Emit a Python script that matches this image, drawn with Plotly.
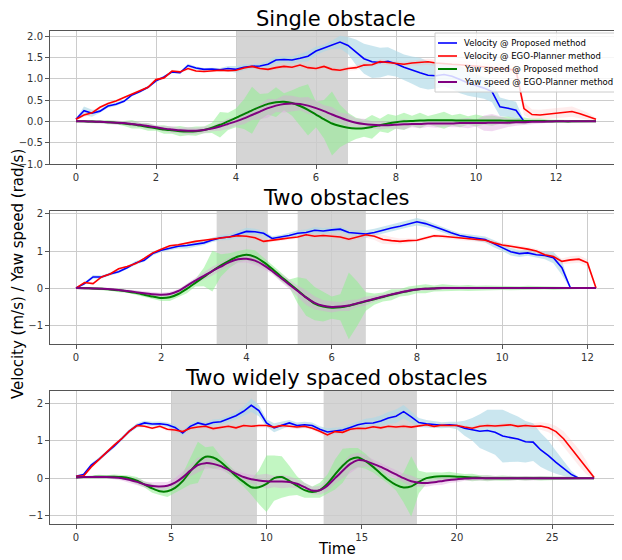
import numpy as np
import plotly.graph_objects as go

# ---------------- DATA ----------------
# Panel 1: Single obstacle (sampled every 0.2 s)
t1 = np.round(np.arange(66) * 0.2, 2)
vel_prop1 = [0.05,0.25,0.19,0.24,0.36,0.40,0.47,0.62,0.70,0.80,
             0.95,1.04,1.16,1.14,1.31,1.25,1.22,1.23,1.21,1.24,
             1.22,1.27,1.29,1.30,1.34,1.44,1.45,1.44,1.48,1.53,
             1.65,1.72,1.80,1.86,1.78,1.62,1.47,1.40,1.38,1.41,
             1.35,1.27,1.20,1.14,1.08,1.07,1.10,1.06,0.98,0.90,
             0.84,0.78,0.70,0.34,0.31,0.26,0.0]
vel_prop1_sd = [0.02,0.10,0.08,0.04,0.04,0.04,0.03,0.03,0.03,0.03,
                0.03,0.03,0.03,0.03,0.04,0.04,0.03,0.03,0.04,0.06,
                0.08,0.07,0.05,0.06,0.08,0.08,0.07,0.08,0.10,0.12,
                0.10,0.08,0.10,0.15,0.20,0.30,0.35,0.38,0.35,0.33,
                0.30,0.30,0.32,0.35,0.33,0.30,0.28,0.30,0.32,0.30,
                0.28,0.25,0.25,0.22,0.20,0.20,0.02]
vel_ego1 = [0.05,0.15,0.20,0.33,0.42,0.48,0.56,0.64,0.73,0.80,
            0.98,1.02,1.18,1.16,1.24,1.18,1.17,1.18,1.20,1.19,
            1.20,1.25,1.29,1.24,1.22,1.26,1.29,1.27,1.32,1.26,
            1.24,1.29,1.22,1.20,1.24,1.26,1.32,1.33,1.40,1.38,
            1.36,1.34,1.37,1.38,1.40,1.37,1.35,1.34,1.33,1.31,
            1.30,1.28,1.26,1.25,1.22,1.20,0.30,0.16,0.15,0.17,
            0.20,0.21,0.23,0.18,0.12,0.05]
vel_ego1_sd = [0.03,0.05,0.04,0.03,0.03,0.03,0.03,0.03,0.03,0.03,
               0.03,0.03,0.03,0.03,0.04,0.03,0.03,0.03,0.03,0.03,
               0.04,0.04,0.05,0.04,0.04,0.05,0.05,0.04,0.05,0.05,
               0.05,0.04,0.05,0.05,0.05,0.06,0.06,0.05,0.06,0.06,
               0.06,0.06,0.06,0.07,0.07,0.08,0.08,0.08,0.09,0.10,
               0.10,0.10,0.10,0.12,0.14,0.15,0.15,0.12,0.12,0.12,
               0.12,0.12,0.12,0.10,0.08,0.03]
yaw_prop1 = [0.0,0.0,-0.005,-0.01,-0.02,-0.03,-0.05,-0.07,-0.10,-0.13,
             -0.16,-0.19,-0.21,-0.23,-0.235,-0.23,-0.20,-0.15,-0.08,0.0,
             0.08,0.17,0.26,0.34,0.41,0.45,0.46,0.43,0.36,0.27,
             0.16,0.05,-0.05,-0.11,-0.15,-0.165,-0.16,-0.13,-0.09,-0.05,
             -0.02,0.0,0.01,0.02,0.025,0.025,0.025,0.025,0.02,0.02,
             0.02,0.02,0.02,0.02,0.015,0.015,0.01,0.01,0.01,0.005,
             0.005,0.0,0.0,0.0,0.0,0.0]
yaw_prop1_sd = [0.01,0.03,0.04,0.03,0.05,0.04,0.06,0.10,0.07,0.09,
                0.06,0.10,0.08,0.12,0.09,0.11,0.08,0.12,0.30,0.20,
                0.22,0.35,0.55,0.30,0.25,0.35,0.20,0.30,0.45,0.60,
                0.30,0.45,0.75,0.50,0.35,0.25,0.20,0.28,0.15,0.22,
                0.15,0.20,0.12,0.18,0.10,0.15,0.20,0.12,0.16,0.10,
                0.14,0.10,0.12,0.08,0.10,0.06,0.08,0.05,0.06,0.04,
                0.04,0.03,0.03,0.02,0.02,0.01]
yaw_ego1 = [0.0,0.0,-0.005,-0.01,-0.02,-0.03,-0.04,-0.06,-0.08,-0.11,
            -0.14,-0.17,-0.19,-0.21,-0.22,-0.22,-0.20,-0.17,-0.12,-0.06,
            0.0,0.07,0.15,0.23,0.31,0.37,0.41,0.42,0.41,0.37,
            0.31,0.24,0.16,0.09,0.02,-0.03,-0.06,-0.08,-0.09,-0.09,
            -0.08,-0.07,-0.06,-0.06,-0.05,-0.05,-0.05,-0.05,-0.04,-0.04,
            -0.04,-0.04,-0.03,-0.03,-0.03,-0.02,-0.02,-0.01,-0.01,-0.005,
            0.0,0.0,0.0,0.0,0.0,0.0]
yaw_ego1_sd = [0.01,0.02,0.03,0.04,0.03,0.05,0.04,0.06,0.05,0.07,
               0.05,0.06,0.08,0.06,0.09,0.07,0.08,0.06,0.10,0.12,
               0.10,0.14,0.12,0.18,0.22,0.15,0.20,0.18,0.15,0.20,
               0.16,0.14,0.18,0.12,0.15,0.10,0.12,0.08,0.10,0.08,
               0.10,0.12,0.08,0.10,0.08,0.10,0.07,0.09,0.10,0.12,
               0.08,0.18,0.20,0.15,0.10,0.08,0.06,0.05,0.04,0.03,
               0.02,0.02,0.02,0.02,0.01,0.01]
obstacles1 = [(4.0, 6.8)]

# Panel 2: Two obstacles (sampled every 0.2 s)
t2 = np.round(np.arange(62) * 0.2, 2)
vel_prop2 = [0.0,0.12,0.30,0.30,0.38,0.44,0.55,0.68,0.75,0.93,
             1.02,1.08,1.13,1.15,1.18,1.22,1.30,1.36,1.38,1.45,
             1.53,1.52,1.48,1.34,1.37,1.42,1.48,1.50,1.56,1.54,
             1.57,1.59,1.50,1.48,1.46,1.50,1.57,1.62,1.67,1.74,
             1.79,1.74,1.67,1.58,1.49,1.42,1.38,1.35,1.31,1.20,
             1.10,0.98,0.93,0.95,0.90,0.88,0.82,0.55,0.0]
vel_prop2_sd = [0.01,0.04,0.05,0.04,0.04,0.04,0.04,0.05,0.04,0.05,
                0.05,0.05,0.06,0.08,0.07,0.06,0.06,0.07,0.08,0.10,
                0.10,0.08,0.07,0.06,0.06,0.07,0.08,0.08,0.09,0.08,
                0.07,0.07,0.06,0.08,0.10,0.10,0.09,0.08,0.09,0.10,
                0.10,0.09,0.08,0.07,0.07,0.06,0.07,0.08,0.08,0.10,
                0.10,0.10,0.09,0.08,0.08,0.10,0.15,0.20,0.02]
vel_ego2 = [0.0,0.15,0.12,0.30,0.38,0.52,0.58,0.66,0.80,0.95,
            1.05,1.14,1.17,1.22,1.26,1.29,1.32,1.36,1.38,1.41,
            1.40,1.36,1.26,1.30,1.32,1.35,1.38,1.44,1.40,1.42,
            1.41,1.38,1.32,1.38,1.44,1.40,1.31,1.28,1.26,1.28,
            1.29,1.35,1.41,1.40,1.38,1.36,1.32,1.30,1.29,1.22,
            1.16,1.13,1.10,1.05,1.00,0.90,0.85,0.72,0.76,0.78,
            0.68,0.0]
vel_ego2_sd = [0.01,0.03,0.03,0.03,0.03,0.03,0.03,0.03,0.03,0.03,
               0.03,0.03,0.03,0.03,0.03,0.03,0.04,0.04,0.04,0.04,
               0.04,0.05,0.05,0.04,0.04,0.04,0.04,0.05,0.05,0.05,
               0.05,0.05,0.06,0.06,0.08,0.10,0.12,0.10,0.08,0.06,
               0.05,0.05,0.05,0.05,0.05,0.05,0.05,0.05,0.06,0.06,
               0.06,0.06,0.06,0.06,0.06,0.07,0.07,0.08,0.10,0.10,
               0.10,0.02]
yaw_prop2 = [0.0,-0.003,-0.01,-0.02,-0.04,-0.06,-0.09,-0.13,-0.18,-0.23,
             -0.27,-0.25,-0.16,-0.02,0.14,0.30,0.46,0.61,0.74,0.85,
             0.90,0.84,0.70,0.52,0.32,0.13,-0.06,-0.25,-0.42,-0.50,
             -0.53,-0.52,-0.48,-0.42,-0.36,-0.30,-0.24,-0.18,-0.13,-0.08,
             -0.04,-0.02,-0.01,0.0,0.0,0.0,0.0,0.0,0.0,0.0,
             0.0,0.0,0.0,0.0,0.0,0.0,0.0,0.0,0.0,0.0,
             0.0,0.0]
yaw_prop2_sd = [0.01,0.03,0.03,0.04,0.03,0.05,0.04,0.06,0.05,0.07,
                0.08,0.10,0.08,0.12,0.10,0.25,0.55,0.30,0.20,0.15,
                0.15,0.18,0.12,0.10,0.12,0.10,0.35,0.50,0.45,0.40,
                0.30,0.35,0.90,0.60,0.25,0.15,0.12,0.15,0.10,0.12,
                0.10,0.12,0.08,0.10,0.08,0.07,0.08,0.06,0.07,0.06,
                0.05,0.06,0.05,0.06,0.05,0.04,0.05,0.04,0.03,0.03,
                0.02,0.01]
yaw_ego2 = [0.0,-0.003,-0.01,-0.02,-0.03,-0.05,-0.08,-0.11,-0.14,-0.17,
            -0.18,-0.16,-0.08,0.06,0.20,0.33,0.46,0.58,0.70,0.78,
            0.79,0.74,0.62,0.46,0.28,0.10,-0.08,-0.26,-0.40,-0.48,
            -0.51,-0.50,-0.47,-0.41,-0.35,-0.29,-0.23,-0.17,-0.12,-0.07,
            -0.04,-0.02,-0.01,0.0,0.0,0.0,0.0,0.0,0.0,0.0,
            0.0,0.0,0.0,0.0,0.0,0.0,0.0,0.0,0.0,0.0,
            0.0,0.0]
yaw_ego2_sd = [0.01,0.02,0.03,0.03,0.04,0.03,0.04,0.05,0.04,0.06,
               0.05,0.06,0.05,0.06,0.08,0.10,0.12,0.10,0.12,0.10,
               0.10,0.12,0.10,0.08,0.10,0.12,0.15,0.20,0.18,0.15,
               0.15,0.12,0.15,0.10,0.12,0.08,0.07,0.06,0.05,0.05,
               0.04,0.05,0.04,0.05,0.04,0.04,0.03,0.04,0.03,0.04,
               0.03,0.04,0.03,0.03,0.04,0.03,0.03,0.03,0.02,0.02,
               0.02,0.01]
obstacles2 = [(3.3, 4.5), (5.2, 6.8)]

# Panel 3: Two widely spaced obstacles (sampled every 0.4 s)
t3 = np.round(np.arange(69) * 0.4, 2)
vel_prop3 = [0.05,0.10,0.35,0.50,0.68,0.85,1.05,1.25,1.40,1.47,
             1.44,1.45,1.42,1.35,1.20,1.38,1.47,1.42,1.48,1.50,
             1.58,1.66,1.78,1.94,1.80,1.47,1.34,1.40,1.47,1.40,
             1.42,1.40,1.30,1.23,1.26,1.28,1.35,1.42,1.46,1.47,
             1.52,1.60,1.65,1.77,1.63,1.48,1.45,1.43,1.41,1.42,
             1.40,1.33,1.30,1.25,1.27,1.22,1.12,1.08,1.04,0.97,
             0.96,0.75,0.60,0.42,0.25,0.10,0.0]
vel_prop3_sd = [0.02,0.04,0.05,0.05,0.05,0.05,0.05,0.05,0.06,0.06,
                0.06,0.06,0.06,0.07,0.08,0.07,0.06,0.07,0.08,0.08,
                0.09,0.10,0.12,0.18,0.15,0.10,0.12,0.10,0.08,0.08,
                0.08,0.08,0.08,0.10,0.08,0.08,0.09,0.10,0.12,0.14,
                0.15,0.16,0.18,0.18,0.15,0.12,0.10,0.08,0.08,0.08,
                0.10,0.20,0.30,0.45,0.55,0.60,0.70,0.65,0.60,0.55,
                0.50,0.45,0.40,0.30,0.20,0.10,0.02]
vel_ego3 = [0.05,0.06,0.30,0.50,0.68,0.88,1.05,1.25,1.40,1.38,
            1.33,1.38,1.30,1.28,1.24,1.33,1.36,1.38,1.32,1.36,
            1.38,1.34,1.40,1.38,1.40,1.40,1.36,1.40,1.38,1.36,
            1.38,1.33,1.25,1.15,1.24,1.22,1.30,1.33,1.32,1.37,
            1.34,1.38,1.36,1.38,1.36,1.40,1.42,1.38,1.41,1.40,
            1.40,1.36,1.33,1.38,1.40,1.39,1.41,1.42,1.38,1.40,
            1.38,1.39,1.34,1.24,1.05,0.80,0.55,0.28,0.02]
vel_ego3_sd = [0.02,0.04,0.04,0.04,0.04,0.04,0.04,0.04,0.04,0.04,
               0.04,0.04,0.05,0.05,0.05,0.05,0.05,0.05,0.05,0.05,
               0.05,0.05,0.05,0.05,0.05,0.05,0.05,0.05,0.05,0.05,
               0.05,0.05,0.06,0.06,0.06,0.05,0.05,0.05,0.05,0.05,
               0.05,0.05,0.05,0.05,0.05,0.05,0.05,0.05,0.05,0.05,
               0.05,0.05,0.05,0.06,0.06,0.06,0.06,0.06,0.06,0.07,
               0.08,0.10,0.12,0.15,0.20,0.22,0.22,0.18,0.03]
yaw_prop3 = [0.02,0.03,0.03,0.04,0.04,0.04,0.03,0.0,-0.07,-0.17,
             -0.27,-0.35,-0.35,-0.26,-0.08,0.18,0.42,0.57,0.55,0.43,
             0.25,0.06,-0.10,-0.24,-0.24,-0.15,0.0,0.03,-0.07,-0.20,
             -0.32,-0.37,-0.32,-0.15,0.10,0.33,0.50,0.55,0.45,0.30,
             0.12,-0.05,-0.18,-0.25,-0.22,-0.10,0.0,0.04,0.05,0.05,
             0.04,0.03,0.02,0.01,0.0,0.0,0.0,0.0,0.0,0.0,
             0.0,0.0,0.0,0.0,0.0,0.0,0.0,0.0,0.0]
yaw_prop3_sd = [0.01,0.03,0.04,0.05,0.04,0.06,0.05,0.07,0.10,0.08,
                0.12,0.10,0.15,0.12,0.20,0.35,0.55,0.25,0.30,0.15,
                0.12,0.10,0.12,0.20,0.45,0.75,0.60,0.55,0.40,0.25,
                0.20,0.15,0.20,0.25,0.40,0.45,0.30,0.25,0.20,0.15,
                0.12,0.10,0.15,0.40,0.80,0.30,0.15,0.12,0.10,0.12,
                0.10,0.08,0.10,0.07,0.08,0.06,0.07,0.06,0.05,0.06,
                0.05,0.06,0.05,0.05,0.04,0.04,0.03,0.02,0.01]
yaw_ego3 = [0.02,0.03,0.03,0.03,0.03,0.02,0.0,-0.04,-0.10,-0.17,
            -0.21,-0.22,-0.20,-0.12,0.02,0.20,0.35,0.40,0.38,0.32,
            0.22,0.12,0.03,-0.03,-0.06,-0.08,-0.09,-0.09,-0.10,-0.15,
            -0.24,-0.33,-0.32,-0.20,0.0,0.20,0.38,0.48,0.46,0.38,
            0.30,0.20,0.10,0.0,-0.08,-0.12,-0.13,-0.11,-0.08,-0.05,
            -0.03,-0.01,0.0,0.0,0.0,0.0,0.0,0.0,0.0,0.0,
            0.0,0.0,0.0,0.0,0.0,0.0,0.0,0.0,0.0]
yaw_ego3_sd = [0.01,0.02,0.03,0.04,0.03,0.05,0.06,0.08,0.10,0.08,
               0.10,0.12,0.10,0.12,0.15,0.15,0.20,0.15,0.12,0.10,
               0.10,0.08,0.10,0.12,0.15,0.20,0.15,0.18,0.15,0.12,
               0.12,0.10,0.12,0.15,0.15,0.20,0.25,0.20,0.15,0.12,
               0.10,0.12,0.10,0.12,0.15,0.10,0.10,0.08,0.10,0.08,
               0.08,0.06,0.07,0.06,0.07,0.06,0.05,0.06,0.05,0.06,
               0.05,0.06,0.05,0.04,0.05,0.04,0.03,0.02,0.01]
obstacles3 = [(5.0, 9.5), (13.0, 17.9)]

titles = ["Single obstacle", "Two obstacles", "Two widely spaced obstacles"]
series_names = ["Velocity @ Proposed method", "Velocity @ EGO-Planner method",
                "Yaw speed @ Proposed method", "Yaw speed @ EGO-Planner method"]

# ---------------- STYLE ----------------
line_colors = ["#0000ff", "#ff0000", "#008000", "#800080"]
band_colors = ["rgba(173,216,230,0.65)", "rgba(255,170,170,0.22)",
               "rgba(144,238,144,0.55)", "rgba(221,160,221,0.40)"]
line_widths = [1.6, 1.6, 2.0, 2.0]
line_shapes = ["linear", "linear", "spline", "spline"]

# page body has an 8px default margin: work in screenshot pixels, shift by OFF
OFF = 8
W, H = 622 - OFF, 560 - OFF
L = 50 - OFF
PW = W - L


def px(x):
    return (x - OFF - L) / PW


def py(y):
    return 1 - (y - OFF) / H


panels = [
    dict(t=t1, series=[(vel_prop1, vel_prop1_sd), (vel_ego1, vel_ego1_sd),
                       (yaw_prop1, yaw_prop1_sd), (yaw_ego1, yaw_ego1_sd)],
         obs=obstacles1, xr=[-0.65, 13.65], yr=[-1.0, 2.12],
         xt=[0, 2, 4, 6, 8, 10, 12], yt=[-1.0, -0.5, 0.0, 0.5, 1.0, 1.5, 2.0],
         yfmt=".1f", dom=[py(164), py(31)]),
    dict(t=t2, series=[(vel_prop2, vel_prop2_sd), (vel_ego2, vel_ego2_sd),
                       (yaw_prop2, yaw_prop2_sd), (yaw_ego2, yaw_ego2_sd)],
         obs=obstacles2, xr=[-0.61, 12.81], yr=[-1.51, 2.08],
         xt=[0, 2, 4, 6, 8, 10, 12], yt=[-1, 0, 1, 2],
         yfmt="d", dom=[py(344), py(211)]),
    dict(t=t3, series=[(vel_prop3, vel_prop3_sd), (vel_ego3, vel_ego3_sd),
                       (yaw_prop3, yaw_prop3_sd), (yaw_ego3, yaw_ego3_sd)],
         obs=obstacles3, xr=[-1.365, 28.665], yr=[-1.22, 2.32],
         xt=[0, 5, 10, 15, 20, 25], yt=[-1, 0, 1, 2],
         yfmt="d", dom=[py(524), py(391)]),
]

fig = go.Figure()
layout = {}
shapes = []
for p_i, p in enumerate(panels):
    ax = "" if p_i == 0 else str(p_i + 1)
    xref, yref = "x" + ax, "y" + ax
    for s_i, (vals, sd) in enumerate(p["series"]):
        v = np.array(vals, dtype=float)
        s = np.array(sd, dtype=float)
        tt = p["t"][:len(v)]
        up, lo = v + s, v - s
        fig.add_trace(go.Scatter(
            x=np.concatenate([tt, tt[::-1]]), y=np.concatenate([up, lo[::-1]]),
            fill="toself", fillcolor=band_colors[s_i], line=dict(width=0),
            mode="lines", hoverinfo="skip", showlegend=False,
            xaxis=xref, yaxis=yref))
    for s_i, (vals, sd) in enumerate(p["series"]):
        v = np.array(vals, dtype=float)
        tt = p["t"][:len(v)]
        fig.add_trace(go.Scatter(
            x=tt, y=v, mode="lines", name=series_names[s_i],
            line=dict(color=line_colors[s_i], width=line_widths[s_i],
                      shape=line_shapes[s_i], smoothing=0.6),
            showlegend=False, xaxis=xref, yaxis=yref))
    for (a, b) in p["obs"]:
        shapes.append(dict(type="rect", xref=xref, yref=yref + " domain",
                           x0=a, x1=b, y0=0, y1=1,
                           fillcolor="rgba(150,150,150,0.40)",
                           line=dict(width=0), layer="below"))
    common = dict(showgrid=True, gridcolor="#cccccc", gridwidth=1, zeroline=False,
                  showline=True, linecolor="#555555", linewidth=1, mirror=True,
                  ticks="outside", ticklen=4, tickcolor="#555555", automargin=False,
                  tickfont=dict(size=10, color="#333333", family="DejaVu Sans"))
    layout["xaxis" + ax] = dict(common, domain=[0, 1], range=p["xr"],
                                tickvals=p["xt"], anchor=yref)
    layout["yaxis" + ax] = dict(common, domain=p["dom"], range=p["yr"],
                                tickvals=p["yt"], tickformat=p["yfmt"], anchor=xref)

annotations = []
title_y = [py(19), py(198), py(378)]
for txt, yy in zip(titles, title_y):
    annotations.append(dict(text=txt, x=px(336), y=yy, xref="paper", yref="paper",
                            xanchor="center", yanchor="middle", showarrow=False,
                            font=dict(size=21, color="#000000", family="DejaVu Sans")))
annotations.append(dict(text="Velocity (m/s) / Yaw speed (rad/s)", x=px(18),
                        y=py(274), xref="paper", yref="paper", textangle=-90,
                        xanchor="center", yanchor="middle", showarrow=False,
                        font=dict(size=15, color="#000000", family="DejaVu Sans")))
annotations.append(dict(text="Time", x=px(337), y=py(549),
                        xref="paper", yref="paper", xanchor="center",
                        yanchor="middle", showarrow=False,
                        font=dict(size=15, color="#000000", family="DejaVu Sans")))

# Legend drawn as a framed box (matplotlib-like compact rows)
shapes.append(dict(type="rect", xref="paper", yref="paper", layer="above",
                   x0=px(435), x1=px(640), y0=py(92), y1=py(33),
                   fillcolor="rgba(255,255,255,0.82)",
                   line=dict(color="#cccccc", width=1)))
row_y = [43, 56, 69, 82]
for s_i, name in enumerate(series_names):
    yy = py(row_y[s_i])
    shapes.append(dict(type="line", xref="paper", yref="paper", layer="above",
                       x0=px(438), x1=px(457), y0=yy, y1=yy,
                       line=dict(color=line_colors[s_i], width=line_widths[s_i])))
    annotations.append(dict(text=name, x=px(462), y=yy, xref="paper",
                            yref="paper", xanchor="left", yanchor="middle",
                            showarrow=False,
                            font=dict(size=8.5, color="#000000", family="DejaVu Sans")))

fig.update_layout(
    **layout,
    shapes=shapes,
    annotations=annotations,
    width=W, height=H,
    margin=dict(l=L, r=0, t=0, b=0),
    paper_bgcolor="white", plot_bgcolor="white",
    font=dict(family="DejaVu Sans"),
    showlegend=False,
)

fig.write_html("out.html")
